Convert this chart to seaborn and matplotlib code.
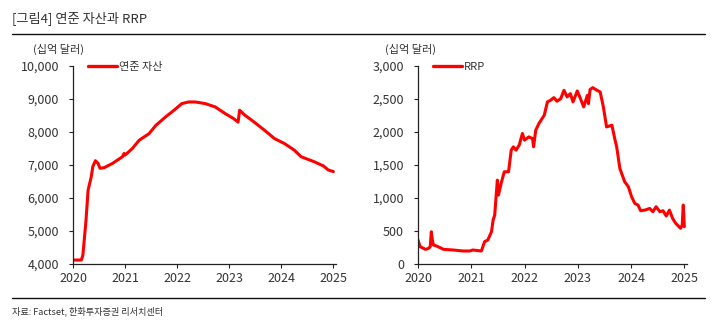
import matplotlib
matplotlib.use("Agg")
import matplotlib.pyplot as plt
import seaborn as sns
import pandas as pd
from matplotlib.lines import Line2D

sns.set_theme(style="white")
plt.rcParams['font.family'] = ['Noto Sans CJK KR', 'DejaVu Sans']

# Fed total assets (billion USD), x = fractional year
fed_t = [2020.0, 2020.16, 2020.19, 2020.25, 2020.29, 2020.35, 2020.38, 2020.43, 2020.48, 2020.52,
         2020.6, 2020.76, 2020.95, 2020.98, 2021.0, 2021.14, 2021.27, 2021.46, 2021.59, 2021.78,
         2021.94, 2022.09, 2022.22, 2022.35, 2022.54, 2022.73, 2022.92, 2023.08, 2023.17, 2023.2,
         2023.3, 2023.43, 2023.68, 2023.87, 2024.06, 2024.25, 2024.38, 2024.63, 2024.81, 2024.9, 2025.0]
fed_v = [4120, 4120, 4270, 5330, 6240, 6640, 6950, 7130, 7050, 6900,
         6920, 7050, 7250, 7350, 7300, 7500, 7750, 7950, 8200, 8460,
         8660, 8860, 8910, 8910, 8860, 8760, 8560, 8410, 8300, 8660,
         8510, 8360, 8050, 7800, 7650, 7450, 7250, 7100, 6970, 6850, 6800]

# Overnight reverse repo (billion USD)
rrp_t = [2020.0, 2020.04, 2020.14, 2020.2, 2020.23, 2020.25, 2020.27, 2020.29, 2020.35, 2020.48,
         2020.66, 2020.85, 2020.97, 2021.03, 2021.19, 2021.25, 2021.31, 2021.38, 2021.41, 2021.44,
         2021.47, 2021.49, 2021.51, 2021.56, 2021.62, 2021.7, 2021.75, 2021.79, 2021.84, 2021.9,
         2021.96, 2022.0, 2022.08, 2022.15, 2022.17, 2022.21, 2022.27, 2022.37, 2022.43, 2022.49,
         2022.55, 2022.61, 2022.68, 2022.74, 2022.8, 2022.86, 2022.91, 2022.99, 2023.05, 2023.11,
         2023.14, 2023.18, 2023.2, 2023.23, 2023.28, 2023.36, 2023.42, 2023.48, 2023.54, 2023.64,
         2023.7, 2023.73, 2023.79, 2023.88, 2023.95, 2024.01, 2024.07, 2024.13, 2024.18, 2024.26,
         2024.35, 2024.41, 2024.47, 2024.54, 2024.6, 2024.66, 2024.72, 2024.78, 2024.84, 2024.93,
         2024.96, 2024.98, 2025.0]
rrp_v = [363, 262, 222, 237, 262, 489, 363, 287, 272, 222,
         212, 197, 197, 212, 197, 338, 363, 489, 666, 741,
         1069, 1271, 1044, 1220, 1397, 1397, 1725, 1775, 1725, 1800,
         1977, 1876, 1926, 1901, 1775, 2027, 2128, 2254, 2456, 2481,
         2521, 2466, 2506, 2632, 2531, 2581, 2456, 2622, 2506, 2380,
         2456, 2556, 2430, 2642, 2672, 2632, 2607, 2380, 2077, 2103,
         1876, 1775, 1447, 1246, 1170, 1019, 918, 893, 807, 817,
         842, 792, 868, 792, 807, 727, 817, 691, 615, 540,
         590, 893, 565]

year_ticks = [2020, 2021, 2022, 2023, 2024, 2025]
fed_ticks = [4000, 5000, 6000, 7000, 8000, 9000, 10000]
rrp_ticks = [0, 500, 1000, 1500, 2000, 2500, 3000]

title = "[그림4] 연준 자산과 RRP"
unit = "(십억 달러)"
source = "자료: Factset, 한화투자증권 리서치센터"

fed_df = pd.DataFrame({"t": fed_t, "v": fed_v})
rrp_df = pd.DataFrame({"t": rrp_t, "v": rrp_v})

fig = plt.figure(figsize=(7.16, 3.32), dpi=100)
ax1 = fig.add_axes([73/716, 1-264/332, (336-73)/716, (264-66)/332])
ax2 = fig.add_axes([418/716, 1-264/332, (687-418)/716, (264-66)/332])

red = "#FF0000"
txt = "#333333"

def style(ax, df, yticks, label, fmt):
    sns.lineplot(data=df, x="t", y="v", ax=ax, color=red, linewidth=2.2)
    ax.set_xlim(2020, 2025.05)
    ax.set_ylim(yticks[0], yticks[-1])
    ax.set_xticks(year_ticks)
    ax.set_xticklabels([str(y) for y in year_ticks])
    ax.set_yticks(yticks)
    ax.set_yticklabels([fmt(v) for v in yticks])
    ax.set_xlabel("")
    ax.set_ylabel("")
    for s in ["top", "right"]:
        ax.spines[s].set_visible(False)
    for s in ["left", "bottom"]:
        ax.spines[s].set_color("#222222")
        ax.spines[s].set_linewidth(0.9)
    ax.tick_params(axis="both", which="both", direction="out", length=3, width=0.8,
                   color="#222222", labelsize=9, labelcolor=txt, left=True, bottom=True)
    ax.tick_params(axis="y", pad=7)
    ax.tick_params(axis="x", pad=3)
    ax.grid(False)
    handle = Line2D([0], [0], color=red, linewidth=2.4)
    leg = ax.legend([handle], [label], loc="upper left", bbox_to_anchor=(0.04, 1.045),
                    frameon=False, fontsize=8, handlelength=2.6, handletextpad=0.2,
                    borderaxespad=0)
    for t in leg.get_texts():
        t.set_color(txt)

style(ax1, fed_df, fed_ticks, "연준 자산", lambda v: f"{v:,}")
style(ax2, rrp_df, rrp_ticks, "RRP", lambda v: f"{v:,}")

fig.text(33/716, 1-49/332, unit, fontsize=8, color=txt, va="center", ha="left")
fig.text(385/716, 1-49/332, unit, fontsize=8, color=txt, va="center", ha="left")

fig.text(12/716, 1-18/332, title, fontsize=9.5, color=txt, va="center", ha="left")
fig.add_artist(Line2D([12/716, 705/716], [1-34/332, 1-34/332], color="#111111", linewidth=1.0))
fig.add_artist(Line2D([12/716, 705/716], [1-298/332, 1-298/332], color="#111111", linewidth=1.0))
fig.text(12/716, 1-311/332, source, fontsize=6.6, color=txt, va="center", ha="left")

fig.savefig("out.png", dpi=100)
